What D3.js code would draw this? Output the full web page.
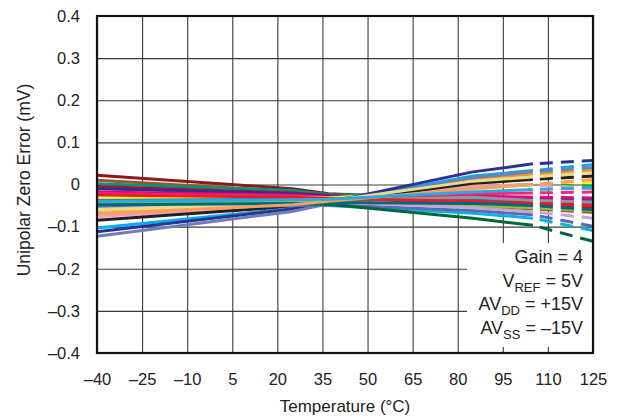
<!DOCTYPE html>
<html>
<head>
<meta charset="utf-8">
<script src="https://cdn.jsdelivr.net/npm/d3@7"></script>
<style>
  html, body { margin: 0; padding: 0; background: #fff; }
  svg { display: block; font-family: "Liberation Sans", Arial, Helvetica, sans-serif; }
</style>
</head>
<body>
<svg id="chart" width="618" height="417"></svg>
<script>
// ---- data ----
const temperatures = [-40, 25, 37, 85, 105, 125];
const xTickValues = [-40, -25, -10, 5, 20, 35, 50, 65, 80, 95, 110, 125];
const yTickValues = [-0.4, -0.3, -0.2, -0.1, 0, 0.1, 0.2, 0.3, 0.4];
const lineColors = [
  "#8b1a1a", "#a0522d", "#00947a", "#9b1c31", "#2e3192", "#e6007e",
  "#ee2a7b", "#fff200", "#1c75bc", "#00a651", "#939598", "#f7941d",
  "#fbb040", "#f49ac1", "#231f20", "#00aeef", "#2e3192", "#6d7fb5",
  "#00b4e6", "#5b6bb0", "#00673a", "#ed1c24", "#8dc63f", "#c4a5d3",
  "#e8dc8a", "#00677f", "#f8a05c", "#27aae1"
];
const zeroErrorValues = [
  [ 0.022, -0.010, -0.022, -0.035, -0.042, -0.048],
  [ 0.010, -0.016, -0.028, -0.050, -0.058, -0.066],
  [ 0.002, -0.014, -0.024, -0.030, -0.035, -0.040],
  [-0.005, -0.020, -0.026, -0.040, -0.048, -0.055],
  [-0.010, -0.022, -0.028, -0.030, -0.033, -0.035],
  [-0.018, -0.025, -0.030, -0.028, -0.030, -0.032],
  [-0.022, -0.028, -0.031, -0.022, -0.020, -0.018],
  [-0.033, -0.032, -0.032, -0.010, -0.001,  0.005],
  [-0.038, -0.035, -0.034, -0.035, -0.038, -0.040],
  [-0.050, -0.040, -0.036, -0.006,  0.000, -0.004],
  [-0.052, -0.042, -0.038, -0.030, -0.038, -0.042],
  [-0.062, -0.045, -0.039,  0.012,  0.025,  0.033],
  [-0.068, -0.047, -0.040,  0.000,  0.015,  0.020],
  [-0.076, -0.050, -0.041, -0.005,  0.000, -0.010],
  [-0.085, -0.052, -0.042,  0.003,  0.012,  0.020],
  [-0.103, -0.057, -0.043,  0.020,  0.033,  0.047],
  [-0.112, -0.058, -0.042,  0.030,  0.049,  0.057],
  [-0.123, -0.064, -0.046,  0.016,  0.030,  0.040],
  [-0.044, -0.048, -0.050, -0.068, -0.080, -0.109],
  [-0.055, -0.050, -0.048, -0.062, -0.072, -0.099],
  [-0.045, -0.045, -0.047, -0.080, -0.097, -0.135],
  [-0.025, -0.030, -0.034, -0.040, -0.045, -0.050],
  [-0.045, -0.042, -0.041, -0.050, -0.055, -0.062],
  [-0.058, -0.045, -0.041, -0.055, -0.065, -0.080],
  [-0.060, -0.045, -0.039,  0.008,  0.018,  0.028],
  [-0.048, -0.045, -0.043, -0.045, -0.050, -0.060],
  [-0.070, -0.048, -0.040, -0.010,  0.000,  0.012],
  [-0.040, -0.036, -0.035, -0.018, -0.012, -0.008]
];
const legendLines = [
  [["Gain = 4", false]],
  [["V", false], ["REF", true], [" = 5V", false]],
  [["AV", false], ["DD", true], [" = +15V", false]],
  [["AV", false], ["SS", true], [" = \u201315V", false]]
];
const xTitle = "Temperature (\u00B0C)";
const yTitle = "Unipolar Zero Error (mV)";

// ---- layout ----
const svg = d3.select("#chart");
const x = d3.scaleLinear().domain([-40, 125]).range([97, 593]);
const y = d3.scaleLinear().domain([-0.4, 0.4]).range([353, 16]);
const dash = s => s.replace(/[-\u2212]/g, "\u2013");

// grid + tick labels via axes
const gx = svg.append("g").attr("transform", `translate(0,${y(-0.4)})`)
  .call(d3.axisBottom(x).tickValues(xTickValues).tickSize(-(y(-0.4) - y(0.4))).tickPadding(20)
    .tickFormat(d => dash(String(d))));
const gy = svg.append("g").attr("transform", `translate(${x(-40)},0)`)
  .call(d3.axisLeft(y).tickValues(yTickValues).tickSize(-(x(125) - x(-40))).tickPadding(17)
    .tickFormat(d => d === 0 ? "0" : dash(d3.format(".1f")(d))));
[gx, gy].forEach(g => {
  g.select(".domain").remove();
  g.attr("font-size", 16.5).attr("font-family", "'Liberation Sans', Arial, sans-serif");
  g.selectAll(".tick line").attr("stroke", "#3a3a3a").attr("stroke-width", 1.1);
  g.selectAll(".tick text").attr("fill", "#222").style("font-size", "16.5px");
});

// series lines
const line = d3.line().x(d => x(d[0])).y(d => y(d[1]));
const series = zeroErrorValues.map((vals, i) => ({
  color: lineColors[i],
  pts: temperatures.map((t, j) => [t, vals[j]])
}));
const gl = svg.append("g");
series.forEach(s => {
  gl.append("path").attr("d", line(s.pts.filter(p => p[0] <= 105)))
    .attr("fill", "none").attr("stroke", s.color).attr("stroke-width", 3)
    .attr("stroke-linejoin", "round");
  gl.append("path").attr("d", line(s.pts.filter(p => p[0] >= 105)))
    .attr("fill", "none").attr("stroke", s.color).attr("stroke-width", 3)
    .attr("stroke-dasharray", "13,8").attr("stroke-dashoffset", 14);
});

// legend box
svg.append("rect").attr("x", 467).attr("y", 243)
  .attr("width", x(125) - 467).attr("height", 104).attr("fill", "#fff");
const lg = svg.append("g").attr("font-size", 18).attr("fill", "#222").attr("text-anchor", "end");
legendLines.forEach((parts, i) => {
  const t = lg.append("text").attr("x", 583).attr("y", 263 + i * 23.5);
  parts.forEach(([txt, sub]) => {
    const ts = t.append("tspan").text(txt);
    if (sub) ts.attr("font-size", 13).attr("dy", 5);
    else if (t.selectAll("tspan").size() > 1) ts.attr("dy", -5);
  });
});

// frame
svg.append("rect").attr("x", x(-40)).attr("y", y(0.4))
  .attr("width", x(125) - x(-40)).attr("height", y(-0.4) - y(0.4))
  .attr("fill", "none").attr("stroke", "#111").attr("stroke-width", 2.2);

// titles
svg.append("text").attr("x", (x(-40) + x(125)) / 2).attr("y", 412)
  .attr("text-anchor", "middle").attr("font-size", 17).attr("fill", "#222").text(xTitle);
svg.append("text").attr("transform", `translate(30,180) rotate(-90)`)
  .attr("text-anchor", "middle").attr("font-size", 17.5).attr("fill", "#222").text(yTitle);
</script>
</body>
</html>
